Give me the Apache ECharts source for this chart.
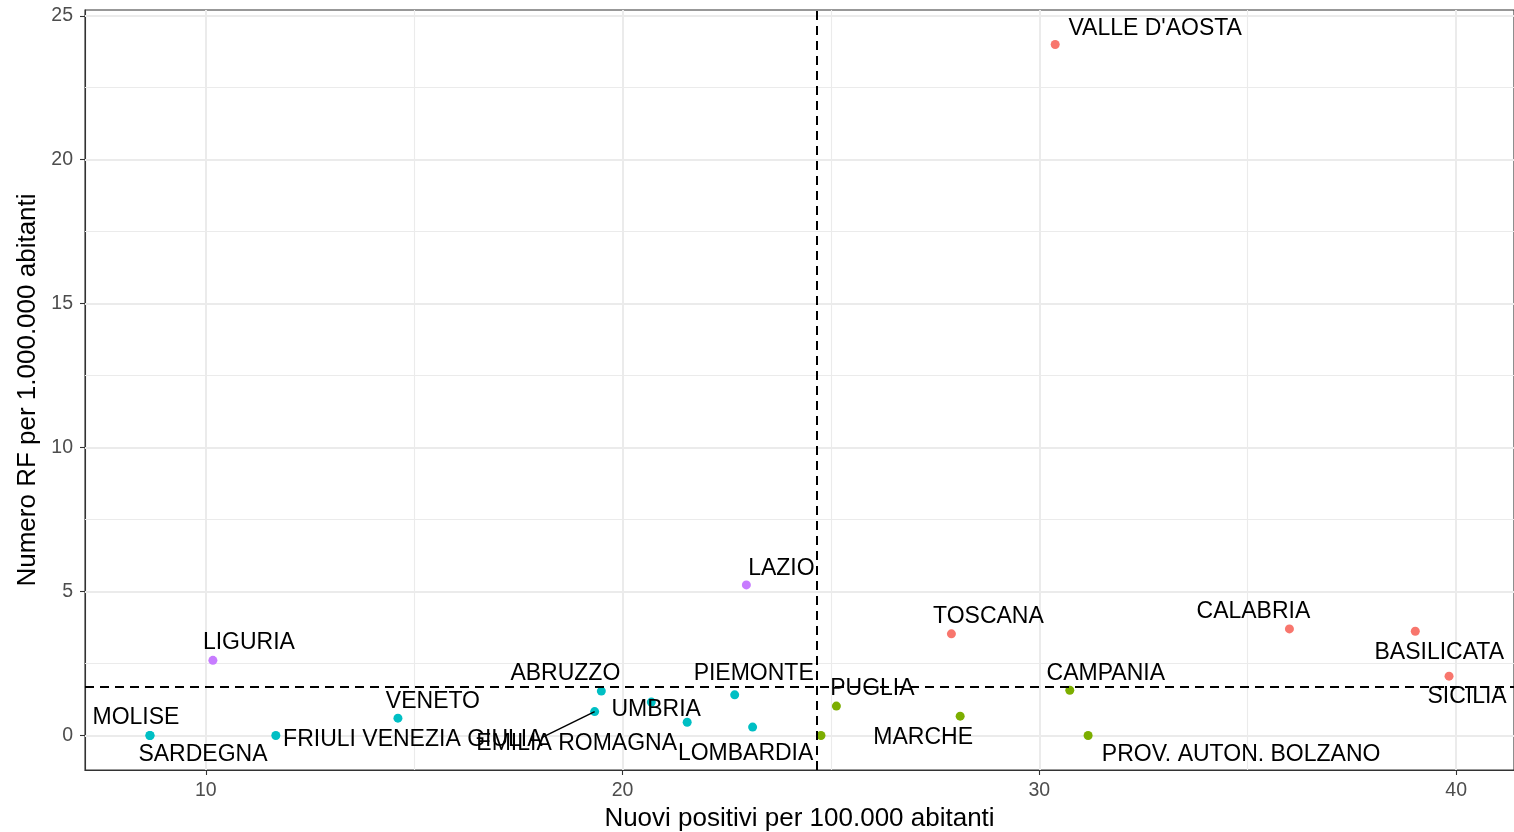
<!DOCTYPE html>
<html>
<head>
<meta charset="utf-8">
<script src="https://cdn.jsdelivr.net/npm/echarts@6/dist/echarts.min.js"></script>
<style>
html,body{margin:0;padding:0;background:#fff;}
#chart{width:1514px;height:832px;}
</style>
</head>
<body>
<div id="chart"></div>
<script>
// ---- data ----
var redNames   = ["VALLE D'AOSTA", "TOSCANA", "CALABRIA", "BASILICATA", "SICILIA"];
var redX       = [30.38, 27.89, 36.00, 39.02, 39.83];
var redY       = [24.00, 3.53, 3.70, 3.62, 2.06];

var greenNames = ["PUGLIA", "MARCHE", "CAMPANIA", "PROV. AUTON. BOLZANO", "PROV. AUTON. TRENTO"];
var greenX     = [25.13, 28.10, 30.73, 31.17, 24.76];
var greenY     = [1.02, 0.67, 1.57, 0.00, 0.00];

var cyanNames  = ["MOLISE", "SARDEGNA", "FRIULI VENEZIA GIULIA", "VENETO", "ABRUZZO",
                  "EMILIA ROMAGNA", "UMBRIA", "PIEMONTE", "LOMBARDIA", ""];
var cyanX      = [8.66, 8.66, 11.68, 14.61, 19.49, 19.33, 21.55, 22.69, 23.12, 20.69];
var cyanY      = [0.00, 0.00, 0.00, 0.60, 1.54, 0.83, 0.46, 1.41, 0.29, 1.16];

var purpleNames = ["LAZIO", "LIGURIA"];
var purpleX     = [22.97, 10.17];
var purpleY     = [5.23, 2.61];

var xThreshold = 24.66;   // vertical dashed line
var yThreshold = 1.70;    // horizontal dashed line

var xTicks = [10, 20, 30, 40];
var xMinor = [15, 25, 35];
var yTicks = [0, 5, 10, 15, 20, 25];
var yMinor = [2.5, 7.5, 12.5, 17.5, 22.5];

var xTitle = "Nuovi positivi per 100.000 abitanti";
var yTitle = "Numero RF per 1.000.000 abitanti";

// ---- layout of repelled labels (pixel offsets from the point) ----
var labelOffsets = {
  "VALLE D'AOSTA": [100, -16],
  "TOSCANA": [37, -17],
  "CALABRIA": [-36, -17],
  "BASILICATA": [24, 21],
  "SICILIA": [18, 21],
  "PUGLIA": [36, -17],
  "MARCHE": [-37, 21],
  "CAMPANIA": [36, -17],
  "PROV. AUTON. BOLZANO": [153, 19],
  "MOLISE": [-14, -18],
  "SARDEGNA": [53, 19],
  "FRIULI VENEZIA GIULIA": [137, 4],
  "VENETO": [35, -17],
  "ABRUZZO": [-36, -17],
  "EMILIA ROMAGNA": [-18, 32],
  "UMBRIA": [-31, -13],
  "PIEMONTE": [19, -21],
  "LOMBARDIA": [-7, 27],
  "LAZIO": [35, -16],
  "LIGURIA": [36, -18]
};
var segments = { "EMILIA ROMAGNA": [-53, 26] };

var FONT = "'Liberation Sans', Arial, sans-serif";

function allVals(arrs) { return [].concat.apply([], arrs); }
var xsAll = allVals([redX, greenX, cyanX, purpleX]);
var ysAll = allVals([redY, greenY, cyanY, purpleY]);
function expand(arr) {
  var lo = Math.min.apply(null, arr), hi = Math.max.apply(null, arr);
  var pad = (hi - lo) * 0.05;
  return [lo - pad, hi + pad];
}
var xr = expand(xsAll), yr = expand(ysAll);

function buildData(names, xs, ys) {
  return names.map(function (n, i) {
    var off = labelOffsets[n];
    return {
      name: n,
      value: [xs[i], ys[i]],
      label: off ? { show: true, position: 'inside', offset: off, formatter: n } : { show: false }
    };
  });
}

function pointSeries(names, xs, ys, color) {
  return {
    type: 'scatter',
    symbol: 'circle',
    symbolSize: 9,
    z: 3,
    itemStyle: { color: color, opacity: 1 },
    label: { show: false, color: '#000', fontSize: 23, fontFamily: FONT },
    emphasis: { disabled: true },
    data: buildData(names, xs, ys)
  };
}

function lines(vals, axis) {
  return vals.map(function (v) { var o = {}; o[axis] = v; return o; });
}

var option = {
  animation: false,
  backgroundColor: '#fff',
  grid: { left: 85, right: 0, top: 10, bottom: 62, show: true, borderColor: '#333', borderWidth: 1.1,
          backgroundColor: 'transparent', containLabel: false, outerBoundsMode: 'none' },
  xAxis: {
    type: 'value', min: xr[0], max: xr[1],
    name: xTitle, nameLocation: 'middle', nameGap: 35,
    nameTextStyle: { color: '#000', fontSize: 26, fontFamily: FONT },
    axisLine: { show: true, onZero: false, lineStyle: { color: '#333', width: 1.1 } },
    axisTick: { show: true, customValues: xTicks, length: 5, lineStyle: { color: '#333', width: 1.1 } },
    axisLabel: { customValues: xTicks, color: '#4D4D4D', fontSize: 19.5, fontFamily: FONT, margin: 11 },
    splitLine: { show: false }
  },
  yAxis: {
    type: 'value', min: yr[0], max: yr[1],
    name: yTitle, nameLocation: 'middle', nameGap: 44, nameRotate: 90,
    nameTextStyle: { color: '#000', fontSize: 26, fontFamily: FONT },
    axisLine: { show: true, onZero: false, lineStyle: { color: '#333', width: 1.1 } },
    axisTick: { show: true, customValues: yTicks, length: 5, lineStyle: { color: '#333', width: 1.1 } },
    axisLabel: { customValues: yTicks, color: '#4D4D4D', fontSize: 19.5, fontFamily: FONT, margin: 12 },
    splitLine: { show: false }
  },
  series: [
    {
      type: 'scatter', data: [], z: 1, silent: true,
      markLine: {
        z: 1, silent: true, symbol: ['none', 'none'], label: { show: false }, animation: false,
        emphasis: { disabled: true },
        lineStyle: { color: '#EBEBEB', width: 1.1, type: 'solid' },
        data: lines(xMinor, 'xAxis').concat(lines(yMinor, 'yAxis'))
      }
    },
    {
      type: 'scatter', data: [], z: 1, silent: true,
      markLine: {
        z: 1, silent: true, symbol: ['none', 'none'], label: { show: false }, animation: false,
        emphasis: { disabled: true },
        lineStyle: { color: '#EBEBEB', width: 2, type: 'solid' },
        data: lines(xTicks, 'xAxis').concat(lines(yTicks, 'yAxis'))
      }
    },
    {
      type: 'scatter', data: [], z: 4, silent: true,
      markLine: {
        z: 4, silent: true, symbol: ['none', 'none'], label: { show: false }, animation: false,
        emphasis: { disabled: true },
        lineStyle: { color: '#000', width: 2, type: [9, 6] },
        data: [{ xAxis: xThreshold }, { yAxis: yThreshold }]
      }
    },
    pointSeries(redNames, redX, redY, '#F8766D'),
    pointSeries(greenNames, greenX, greenY, '#7CAE00'),
    pointSeries(cyanNames, cyanX, cyanY, '#00BFC4'),
    pointSeries(purpleNames, purpleX, purpleY, '#C77CFF')
  ]
};

var chart = echarts.init(document.getElementById('chart'), null, { renderer: 'canvas' });
chart.setOption(option);

// connector segments for repelled labels
var groups = [[redNames, redX, redY], [greenNames, greenX, greenY], [cyanNames, cyanX, cyanY], [purpleNames, purpleX, purpleY]];
var graphics = [];
groups.forEach(function (g) {
  g[0].forEach(function (n, i) {
    if (segments[n]) {
      var p = chart.convertToPixel({ xAxisIndex: 0, yAxisIndex: 0 }, [g[1][i], g[2][i]]);
      graphics.push({
        type: 'line', z: 5,
        shape: { x1: p[0], y1: p[1], x2: p[0] + segments[n][0], y2: p[1] + segments[n][1] },
        style: { stroke: '#000', lineWidth: 1.5 }
      });
    }
  });
});
chart.setOption({ graphic: graphics });
</script>
</body>
</html>
